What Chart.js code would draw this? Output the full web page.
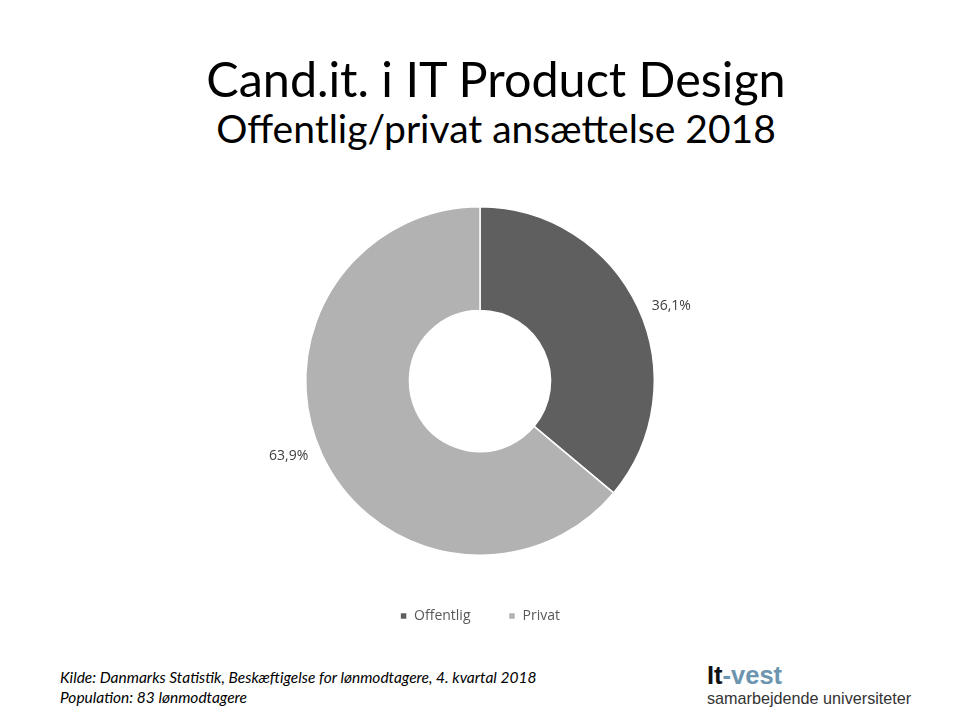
<!DOCTYPE html>
<html>
<head>
<meta charset="utf-8">
<script src="https://cdn.jsdelivr.net/npm/chart.js@4"></script>
<style>
  body { margin: 0; background: #fff; }
  .slide { position: relative; width: 960px; height: 720px; overflow: hidden; font-family: Lato, "Open Sans", sans-serif; }
  .title { position: absolute; left: 16px; width: 960px; text-align: center; color: #000; white-space: nowrap; }
  #t1 { top: 49px; font-size: 48.5px; }
  #t2 { top: 105px; font-size: 39px; }
  .chart-box { position: absolute; left: 0; top: 200px; width: 960px; height: 440px; }
  .source { position: absolute; left: 60px; top: 667px; font-size: 15.5px; font-style: italic; line-height: 20px; color: #000; white-space: nowrap; }
  .logo { position: absolute; left: 707px; top: 663px; font-family: "Liberation Sans", Arial, sans-serif; white-space: nowrap; }
  .logo .big { font-size: 25.5px; font-weight: bold; line-height: 25px; }
  .logo .small { font-size: 16.2px; color: #333; line-height: 20px; }
</style>
</head>
<body>
<div class="slide">
  <div class="title" id="t1">Cand.it. i IT Product Design</div>
  <div class="title" id="t2">Offentlig/privat ansættelse 2018</div>
  <div class="chart-box"><canvas id="pieChart"></canvas></div>
  <div class="source">Kilde: Danmarks Statistik, Beskæftigelse for lønmodtagere, 4. kvartal 2018<br>Population: 83 lønmodtagere</div>
  <div class="logo">
    <div class="big"><span style="color:#111">It</span><span style="color:#6d95b0">-vest</span></div>
    <div class="small">samarbejdende universiteter</div>
  </div>
</div>
<script>
const categories = ["Offentlig", "Privat"];
const shares = [36.1, 63.9];
const sliceColors = ["#5f5f5f", "#b2b2b2"];

const legendShift = 15;
const labelTurn = 3.5 * Math.PI / 180; // labels sit a bit clockwise of the slice middle

// percent labels placed outside each slice
const outsideLabels = {
  id: "outsideLabels",
  afterLayout(chart) {
    // push the legend a little further below the doughnut
    chart.legend.top += legendShift;
    chart.legend.bottom += legendShift;
  },
  afterDatasetsDraw(chart) {
    const ctx = chart.ctx;
    const meta = chart.getDatasetMeta(0);
    ctx.save();
    ctx.font = "14px 'Open Sans', sans-serif";
    ctx.fillStyle = "#404040";
    ctx.textAlign = "center";
    ctx.textBaseline = "middle";
    meta.data.forEach((arc, i) => {
      const mid = (arc.startAngle + arc.endAngle) / 2 + labelTurn;
      const r = arc.outerRadius * 1.18;
      const x = arc.x + Math.cos(mid) * r;
      const y = arc.y + Math.sin(mid) * r;
      ctx.fillText(shares[i].toFixed(1).replace(".", ",") + "%", x, y);
    });
    ctx.restore();
  }
};

new Chart(document.getElementById("pieChart").getContext("2d"), {
  type: "doughnut",
  data: {
    labels: categories,
    datasets: [{
      data: shares,
      backgroundColor: sliceColors,
      borderColor: "#fff",
      borderWidth: 1.5
    }]
  },
  options: {
    responsive: true,
    maintainAspectRatio: false,
    animation: false,
    cutout: "40.5%",
    layout: { padding: { top: 6, bottom: 22 } },
    plugins: {
      legend: {
        position: "bottom",
        labels: {
          boxWidth: 7,
          boxHeight: 7,
          padding: 38,
          color: "#595959",
          font: { size: 14, family: "'Open Sans', sans-serif" }
        }
      },
      tooltip: { enabled: false }
    }
  },
  plugins: [outsideLabels]
});
</script>
</body>
</html>
